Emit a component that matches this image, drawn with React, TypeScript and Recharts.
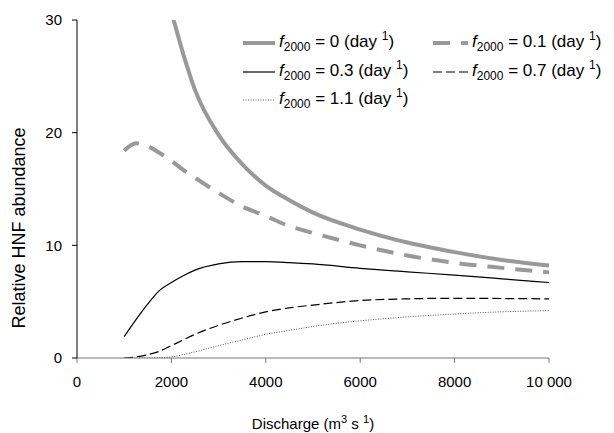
import React from "react";
import { Line, LineChart, XAxis, YAxis } from "recharts";

// discharge (m3 s-1)
const discharge = [1000, 1250, 1500, 1750, 2000, 2250, 2500, 3000, 3500, 4000, 4500, 5000, 6000, 7000, 8000, 9000, 10000];

// relative HNF abundance for each f2000
const f0 = [null, null, null, 33.0, 30.6, 27.0, 23.8, 19.8, 17.2, 15.3, 14.0, 12.9, 11.4, 10.25, 9.4, 8.7, 8.2];
const f01 = [18.4, 19.05, 18.8, 18.2, 17.5, 16.7, 16.0, 14.65, 13.45, 12.6, 11.7, 11.1, 10.0, 9.1, 8.45, 8.0, 7.6];
const f03 = [1.9, 3.4, 4.8, 6.0, 6.7, 7.3, 7.8, 8.35, 8.55, 8.55, 8.47, 8.35, 7.96, 7.65, 7.35, 7.03, 6.7];
const f07 = [0, 0.1, 0.3, 0.6, 1.1, 1.6, 2.1, 2.9, 3.55, 4.1, 4.45, 4.7, 5.1, 5.25, 5.3, 5.28, 5.25];
const f11 = [0, 0, 0, 0.03, 0.1, 0.3, 0.55, 1.1, 1.6, 2.1, 2.45, 2.8, 3.3, 3.65, 3.9, 4.1, 4.2];

const xTicks = [0, 2000, 4000, 6000, 8000, 10000];
const yTicks = [0, 10, 20, 30];
const legendValues = ["0", "0.1", "0.3", "0.7", "1.1"];

const data = discharge.map((d, i) => ({
  q: d,
  f0: f0[i],
  f01: f01[i],
  f03: f03[i],
  f07: f07[i],
  f11: f11[i],
}));

const FONT = "'Liberation Sans', Arial, sans-serif";

const styles = [
  { stroke: "#999", width: 4, dash: undefined },
  { stroke: "#999", width: 4, dash: "17 11" },
  { stroke: "#000", width: 1.2, dash: undefined },
  { stroke: "#000", width: 1.2, dash: "9 4" },
  { stroke: "#555", width: 1, dash: "1 1.5" },
];

const legendPos = [
  { x: 243, y: 43, x2: 275 },
  { x: 433, y: 43, x2: 468 },
  { x: 243, y: 72, x2: 275 },
  { x: 433, y: 72, x2: 468 },
  { x: 243, y: 100, x2: 275 },
];

function LegendItem({ i }: { i: number }) {
  const p = legendPos[i];
  const s = styles[i];
  return (
    <g>
      <line x1={p.x} x2={p.x2} y1={p.y} y2={p.y} stroke={s.stroke} strokeWidth={s.width} strokeDasharray={s.dash} />
      <text x={p.x2 + 4} y={p.y + 4} fontSize={17} fontFamily={FONT} fill="#000">
        <tspan fontStyle="italic">f</tspan>
        <tspan fontSize={12} dy={4}>2000</tspan>
        <tspan dy={-4}>{` = ${legendValues[i]} (day `}</tspan>
        <tspan fontSize={12} dy={-7}>1</tspan>
        <tspan dy={7}>)</tspan>
      </text>
    </g>
  );
}

export default function App() {
  return (
    <div style={{ position: "absolute", left: 0, top: 0, width: 614, height: 433 }}>
      <LineChart width={614} height={433} data={data} margin={{ top: 20, right: 65, bottom: 15, left: 0 }}>
        <XAxis
          dataKey="q"
          type="number"
          domain={[0, 10000]}
          ticks={xTicks}
          height={60}
          tickSize={5}
          tickMargin={13}
          stroke="#777"
          tick={{ fill: "#000", fontSize: 15, fontFamily: FONT }}
          tickFormatter={(v) => (v === 10000 ? "10 000" : String(v))}
        />
        <YAxis
          type="number"
          domain={[0, 30]}
          ticks={yTicks}
          allowDataOverflow
          width={77}
          tickSize={5}
          tickMargin={10}
          stroke="#000"
          tick={{ fill: "#000", fontSize: 15, fontFamily: FONT }}
        />
        <Line type="monotone" dataKey="f0" stroke={styles[0].stroke} strokeWidth={styles[0].width} dot={false} isAnimationActive={false} />
        <Line type="monotone" dataKey="f01" stroke={styles[1].stroke} strokeWidth={styles[1].width} strokeDasharray={styles[1].dash} dot={false} isAnimationActive={false} />
        <Line type="monotone" dataKey="f03" stroke={styles[2].stroke} strokeWidth={styles[2].width} dot={false} isAnimationActive={false} />
        <Line type="monotone" dataKey="f07" stroke={styles[3].stroke} strokeWidth={styles[3].width} strokeDasharray={styles[3].dash} dot={false} isAnimationActive={false} />
        <Line type="monotone" dataKey="f11" stroke={styles[4].stroke} strokeWidth={styles[4].width} strokeDasharray={styles[4].dash} dot={false} isAnimationActive={false} />
      </LineChart>
      <svg width={614} height={433} style={{ position: "absolute", left: 0, top: 0, pointerEvents: "none" }}>
        {legendValues.map((_, i) => (
          <LegendItem key={i} i={i} />
        ))}
        <text x={19} y={228} transform="rotate(-90, 19, 228)" textAnchor="middle" dominantBaseline="central" fontSize={18} fontFamily={FONT} fill="#000">
          Relative HNF abundance
        </text>
        <text x={313} y={429} textAnchor="middle" fontSize={15} fontFamily={FONT} fill="#000">
          Discharge (m<tspan fontSize={11} dy={-6}>3</tspan>
          <tspan dy={6}> s </tspan>
          <tspan fontSize={11} dy={-6}>1</tspan>
          <tspan dy={6}>)</tspan>
        </text>
      </svg>
    </div>
  );
}
